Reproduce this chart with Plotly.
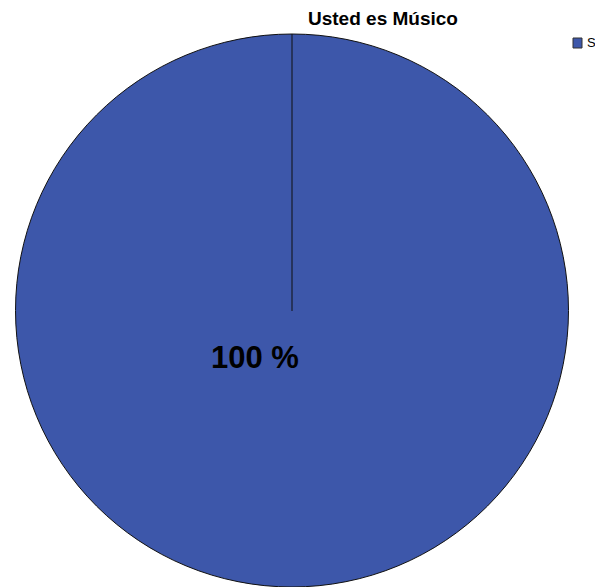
import plotly.graph_objects as go

labels = ["Si"]
values = [100]
title_text = "Usted es Músico"
pct_label = "100 %"

W, H = 595, 587
cx, cy, r = 292, 311, 277

fig = go.Figure(go.Pie(
    labels=labels, values=values, sort=False, direction="clockwise", rotation=0,
    marker=dict(colors=["#3D57AA"], line=dict(color="#111111", width=1)),
    textinfo="none", hoverinfo="label+percent", showlegend=False,
    domain=dict(x=[(cx - r) / W, (cx + r) / W], y=[1 - (cy + r) / H if (cy + r) <= H else 0, 1 - (cy - r) / H]),
))

# radial border line from center to top
fig.add_shape(type="line", xref="paper", yref="paper",
              x0=cx / W, x1=cx / W, y0=1 - cy / H, y1=1 - (cy - r) / H,
              line=dict(color="#111111", width=1))

fig.add_annotation(text=f"<b>{pct_label}</b>", x=255 / W, y=1 - 357 / H, xref="paper", yref="paper",
                   showarrow=False, font=dict(family="Liberation Sans, Arial", size=31, color="#000000"),
                   xanchor="center", yanchor="middle")

fig.add_annotation(text=f"<b>{title_text}</b>", x=383 / W, y=1 - 18 / H, xref="paper", yref="paper",
                   showarrow=False, font=dict(family="Liberation Sans, Arial", size=19, color="#000000"),
                   xanchor="center", yanchor="middle")

# legend
fig.add_shape(type="rect", xref="paper", yref="paper",
              x0=573 / W, x1=582 / W, y0=1 - 48 / H, y1=1 - 38 / H,
              fillcolor="#3D57AA", line=dict(color="#333333", width=1))
fig.add_annotation(text=labels[0], x=585 / W, y=1 - 43 / H, xref="paper", yref="paper",
                   showarrow=False, font=dict(family="Liberation Sans, Arial", size=13, color="#000000"),
                   xanchor="left", yanchor="middle")

fig.update_layout(width=W, height=H, margin=dict(l=0, r=0, t=0, b=0),
                  paper_bgcolor="white", plot_bgcolor="white")
fig.write_html("out.html")
